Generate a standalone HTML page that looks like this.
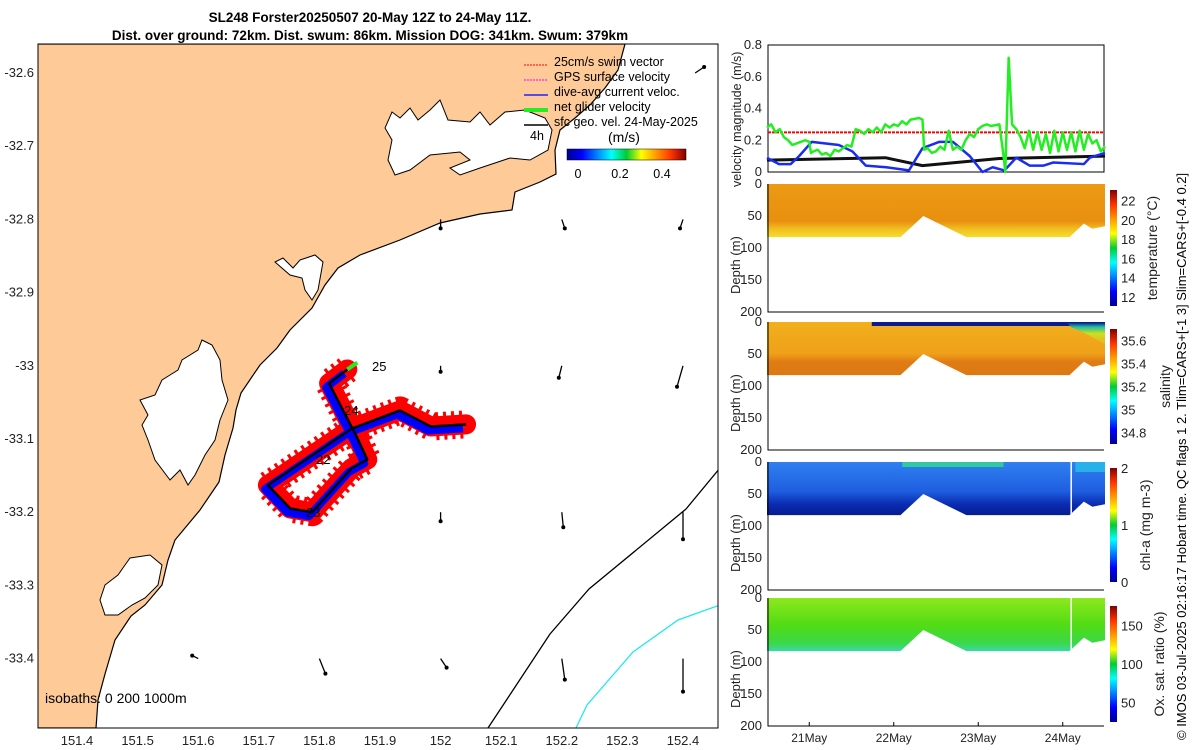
<!DOCTYPE html>
<html><head><meta charset="utf-8">
<style>
html,body{margin:0;padding:0;background:#fff;}
svg{display:block;font-family:"Liberation Sans","DejaVu Sans",sans-serif;}
.t{font-size:13px;fill:#222;}
</style></head>
<body>
<svg id="fig" width="1200" height="750" viewBox="0 0 1200 750" xmlns="http://www.w3.org/2000/svg">
<defs>
<linearGradient id="jetV" x1="0" y1="1" x2="0" y2="0">
<stop offset="0" stop-color="#00008f"/><stop offset="0.125" stop-color="#0000ff"/><stop offset="0.375" stop-color="#00ffff"/><stop offset="0.5" stop-color="#00cc33"/><stop offset="0.625" stop-color="#ffff00"/><stop offset="0.875" stop-color="#ff3300"/><stop offset="1" stop-color="#800000"/>
</linearGradient>
<linearGradient id="jetH" x1="0" y1="0" x2="1" y2="0">
<stop offset="0" stop-color="#00008f"/><stop offset="0.125" stop-color="#0000ff"/><stop offset="0.375" stop-color="#00ffff"/><stop offset="0.5" stop-color="#00cc33"/><stop offset="0.625" stop-color="#ffff00"/><stop offset="0.875" stop-color="#ff3300"/><stop offset="1" stop-color="#800000"/>
</linearGradient>
<linearGradient id="gT" x1="0" y1="0" x2="0" y2="1"><stop offset="0" stop-color="#ec9a14"/><stop offset="0.7" stop-color="#e8900f"/><stop offset="0.85" stop-color="#f2c021"/><stop offset="1" stop-color="#f4dd2a"/></linearGradient>
<linearGradient id="gS" x1="0" y1="0" x2="0" y2="1"><stop offset="0" stop-color="#f2b01c"/><stop offset="0.6" stop-color="#eea019"/><stop offset="0.75" stop-color="#e07b15"/><stop offset="1" stop-color="#dc7a12"/></linearGradient>
<linearGradient id="gC" x1="0" y1="0" x2="0" y2="1"><stop offset="0" stop-color="#2f80f0"/><stop offset="0.55" stop-color="#1f5ee0"/><stop offset="0.8" stop-color="#0a2bb0"/><stop offset="1" stop-color="#061c90"/></linearGradient>
<linearGradient id="gO" x1="0" y1="0" x2="0" y2="1"><stop offset="0" stop-color="#8ee81e"/><stop offset="0.5" stop-color="#52dc14"/><stop offset="0.85" stop-color="#3ad84a"/><stop offset="1" stop-color="#3ed8a8"/></linearGradient>
<linearGradient id="gSR" x1="0" y1="0" x2="0" y2="1"><stop offset="0" stop-color="#0a1a90"/><stop offset="0.2" stop-color="#20c0a0"/><stop offset="0.5" stop-color="#c8e020"/><stop offset="1" stop-color="#f0b020"/></linearGradient>
</defs>

<text x="370" y="22" text-anchor="middle" font-weight="bold" font-size="13.5" fill="#000">SL248 Forster20250507 20-May 12Z to 24-May 11Z.</text>
<text x="370" y="40" text-anchor="middle" font-weight="bold" font-size="13.5" fill="#000">Dist. over ground: 72km. Dist. swum: 86km. Mission DOG: 341km. Swum: 379km</text>

<g id="map">
<clipPath id="mapclip"><rect x="38" y="44" width="680" height="684"/></clipPath>
<g clip-path="url(#mapclip)">
<polygon fill="#fdca98" stroke="#000" stroke-width="1.2" points="30,44 625,44 618,70 605,88 590,105 575,118 560,130 555,150 556,174 540,182 515,192 512,210 480,214 440,223 400,240 360,255 338,268 325,285 312,308 290,330 277,348 260,365 241,393 236,410 233,428 225,455 219,482 200,510 175,540 168,560 162,585 145,605 131,616 115,640 105,674 98,700 96,728 30,728"/>
<polygon fill="#fff" stroke="#000" stroke-width="1" points="392,112 400,118 410,108 418,120 430,110 440,100 448,120 470,122 480,112 490,125 505,112 525,110 545,118 552,130 548,150 530,160 510,158 480,168 460,175 450,168 470,160 460,152 430,155 410,170 395,175 388,160 392,140 385,128"/>
<polygon fill="#fff" stroke="#000" stroke-width="1" points="300,260 315,255 323,262 318,290 312,300 305,290 302,278 290,275 275,262 283,258 293,268"/>
<polygon fill="#fff" stroke="#000" stroke-width="1" points="202,340 212,345 220,360 222,380 228,400 220,420 215,440 205,455 195,475 188,485 180,470 170,480 155,460 148,440 142,425 148,415 140,400 155,395 162,380 170,375 178,370 182,360 190,355 198,350"/>
<polygon fill="#fff" stroke="#000" stroke-width="1" points="130,558 150,555 162,565 158,585 145,598 132,605 118,615 105,615 100,600 105,585 118,575 125,565"/>
<polyline fill="none" stroke="#000" stroke-width="1.3" points="488,728 550,634 589,589 686,509 720,468"/>
<polyline fill="none" stroke="#22e8f0" stroke-width="1.3" points="576,728 587,705 633,652 678,620 720,605"/>
<g id="vecs"></g>
<g id="track"></g>
</g>
<rect x="38" y="44" width="680" height="684" fill="none" stroke="#000" stroke-width="1"/>
<g id="mapticks" class="t"></g>
<text x="372" y="371" font-size="13">25</text>
<text x="344" y="415" font-size="13">24</text>
<text x="316" y="464" font-size="13">22</text>
<text x="306" y="517" font-size="13">23</text>
<text x="45" y="703" font-size="14">isobaths: 0   200  1000m</text>
<g font-size="12.5" fill="#000">
<line x1="524" y1="65" x2="548" y2="65" stroke="#f00" stroke-dasharray="2,1"/><text x="554" y="66">25cm/s swim vector</text>
<line x1="524" y1="80" x2="548" y2="80" stroke="#f0f" stroke-dasharray="2,1"/><text x="554" y="81">GPS surface velocity</text>
<line x1="524" y1="95" x2="548" y2="95" stroke="#22f" stroke-width="1.5"/><text x="554" y="96">dive-avg current veloc.</text>
<line x1="524" y1="110" x2="548" y2="110" stroke="#2e2" stroke-width="4"/><text x="554" y="111">net glider velocity</text>
<line x1="524" y1="125" x2="548" y2="125" stroke="#000" stroke-width="1.5"/><text x="554" y="126">sfc geo. vel. 24-May-2025</text>
<text x="530" y="140">4h</text>
<text x="608" y="142" font-size="14">(m/s)</text>
<rect x="567" y="149" width="119" height="11" fill="url(#jetH)" stroke="#000" stroke-width="0.5"/>
<text x="578" y="178" text-anchor="middle">0</text><text x="620" y="178" text-anchor="middle">0.2</text><text x="662" y="178" text-anchor="middle">0.4</text>
</g>
</g>

<g id="vel"></g>
<g id="sections"></g>

<text transform="translate(1186,740) rotate(-90)" font-size="13" fill="#000">© IMOS 03-Jul-2025 02:16:17 Hobart time. QC flags 1  2. Tlim=CARS+[-1 3] Slim=CARS+[-0.4 0.2]</text>
</svg>
<script>
const NS="http://www.w3.org/2000/svg";
// ---- data ----
const lonTicks=[151.4,151.5,151.6,151.7,151.8,151.9,152,152.1,152.2,152.3,152.4];
const latTicks=[-32.6,-32.7,-32.8,-32.9,-33,-33.1,-33.2,-33.3,-33.4];
const trackLon=[151.846,151.816,151.861,151.879,151.853,151.788,151.752,151.715,151.853,151.933,151.984,152.042];
const trackLat=[-33.005,-33.024,-33.096,-33.128,-33.140,-33.200,-33.195,-33.163,-33.086,-33.061,-33.083,-33.080];
const vecLon=[152.0,152.2,152.4,152.0,152.2,152.4,152.0,152.2,152.4,151.6,151.8,152.0,152.2,152.4,152.42];
const vecLat=[-32.8,-32.8,-32.8,-33.0,-33.0,-33.0,-33.2,-33.2,-33.2,-33.4,-33.4,-33.4,-33.4,-33.4,-32.6];
const vecU=[0,0.01,-0.01,0,-0.01,-0.02,0,0.005,0,-0.02,0.02,0.02,0.01,0,0.03];
const vecV=[-0.03,-0.03,-0.03,-0.02,-0.04,-0.07,-0.03,-0.05,-0.09,0.01,-0.05,-0.03,-0.07,-0.11,0.02];
const velTicks=[0,0.2,0.4,0.6,0.8];
const greenT=[0,0.05,0.1,0.15,0.2,0.25,0.3,0.35,0.4,0.45,0.5,0.52,0.55,0.6,0.65,0.7,0.75,0.8,0.85,0.9,0.95,1.0,1.05,1.1,1.15,1.2,1.25,1.3,1.35,1.4,1.45,1.5,1.55,1.6,1.65,1.7,1.8,1.84,1.86,1.9,1.95,2.0,2.05,2.1,2.15,2.2,2.25,2.3,2.35,2.4,2.45,2.5,2.55,2.6,2.65,2.75,2.8,2.82,2.86,2.9,2.95,3.0,3.05,3.1,3.15,3.2,3.25,3.3,3.35,3.4,3.45,3.5,3.55,3.6,3.65,3.7,3.75,3.8,3.85,3.9,3.95,4.0];
const greenV=[0.28,0.3,0.25,0.27,0.22,0.2,0.17,0.18,0.19,0.2,0.19,0.12,0.13,0.14,0.11,0.12,0.1,0.14,0.13,0.15,0.17,0.16,0.27,0.26,0.24,0.27,0.25,0.28,0.25,0.3,0.28,0.3,0.29,0.32,0.3,0.33,0.34,0.33,0.14,0.15,0.12,0.13,0.16,0.14,0.26,0.14,0.16,0.14,0.2,0.24,0.22,0.27,0.29,0.3,0.29,0.3,0.1,0.0,0.72,0.3,0.27,0.22,0.15,0.26,0.14,0.25,0.14,0.24,0.12,0.26,0.13,0.25,0.14,0.25,0.13,0.26,0.14,0.24,0.18,0.2,0.13,0.16];
const blueT=[0,0.14,0.28,0.38,0.53,0.85,1.01,1.17,1.41,1.68,1.84,2.04,2.2,2.4,2.55,2.67,2.81,2.95,3.11,3.27,3.39,3.75,3.82,4.0];
const blueV=[0.09,0.05,0.05,0.1,0.19,0.17,0.13,0.04,0.03,0.01,0.15,0.19,0.19,0.1,0.0,0.03,0.01,0.09,0.04,0.04,0.06,0.05,0.09,0.12];
const blackT=[0,1.4,1.84,2.75,4.0];
const blackV=[0.075,0.09,0.04,0.085,0.1];
const swimRef=0.25;
const bottomT=[0,1.58,1.85,2.36,3.58,3.75,3.85,4.0];
const bottomD=[83,83,50,83,83,62,70,66];
const depthTicks=[0,50,100,150,200];
const dayTicks=[0.5,1.5,2.5,3.5];
const dayLabels=["21May","22May","23May","24May"];
const tempTicks=[12,14,16,18,20,22];
const salTicks=[34.8,35,35.2,35.4,35.6];
const chlTicks=[0,1,2];
const oxTicks=[50,100,150];

// ---- scales ----
const lx=v=>77+(v-151.4)*606;
const ly=v=>73+(-32.6-v)*732;
const tx=t=>767+t*84.5;
function mk(tag,attrs,parent){const e=document.createElementNS(NS,tag);for(const k in attrs)e.setAttribute(k,attrs[k]);parent.appendChild(e);return e;}

// map ticks
const mt=document.getElementById('mapticks');
lonTicks.forEach(v=>{const x=lx(v);
 const t=mk('text',{x:x,y:745,'text-anchor':'middle'},mt);t.textContent=String(v);
 });
latTicks.forEach(v=>{const y=ly(v);
 const t=mk('text',{x:34,y:y+4,'text-anchor':'end'},mt);t.textContent=String(v);
 });

// vectors
const vg=document.getElementById('vecs');
vecLon.forEach((lo,i)=>{const x=lx(lo),y=ly(vecLat[i]);const x2=x+vecU[i]*300,y2=y-vecV[i]*300;
 const l=mk('line',{x1:x,y1:y,x2:x2,y2:y2,stroke:'#000','stroke-width':1.3},vg);
 
 const c=mk('circle',{cx:x2,cy:y2,r:2,fill:'#000'},vg);
 });

// track
const tg=document.getElementById('track');
const pts=trackLon.map((lo,i)=>lx(lo)+','+ly(trackLat[i])).join(' ');
const red=mk('polyline',{points:pts,fill:'none',stroke:'#f00','stroke-width':20,'stroke-linejoin':'round','stroke-linecap':'round'},tg);

const red2=mk('polyline',{points:pts,fill:'none',stroke:'#f00','stroke-width':28,'stroke-dasharray':'3,5','stroke-linejoin':'round'},tg);

const blu=mk('polyline',{points:pts,fill:'none',stroke:'#0000ff','stroke-width':8,'stroke-linejoin':'round',transform:'translate(-3,4)'},tg);

const blk=mk('polyline',{points:pts,fill:'none',stroke:'#000','stroke-width':2.5,'stroke-linejoin':'round'},tg);

const gr=mk('line',{x1:lx(trackLon[0]),y1:ly(trackLat[0]),x2:lx(trackLon[0])+10,y2:ly(trackLat[0])-7,stroke:'#2e2','stroke-width':4},tg);


// velocity panel
const vp=document.getElementById('vel');
const vy=v=>172-v*158.75;
const box=mk('rect',{x:768,y:45,width:336,height:127,fill:'none',stroke:'#000'},vp);

velTicks.forEach(v=>{const t=mk('text',{x:762,y:vy(v)+4,'text-anchor':'end','font-size':13,fill:'#222'},vp);t.textContent=String(v);
 });
const vl=mk('text',{transform:'translate(741,187) rotate(-90)','font-size':12.5,fill:'#222'},vp);vl.textContent='velocity magnitude (m/s)';

const rl=mk('line',{x1:768,y1:vy(swimRef),x2:1104,y2:vy(swimRef),stroke:'#f00','stroke-width':2,'stroke-dasharray':'3,1'},vp);

function series(T,V,col,w,name){const p=mk('polyline',{points:T.map((t,i)=>tx(t)+','+vy(V[i])).join(' '),fill:'none',stroke:col,'stroke-width':w,'stroke-linejoin':'round'},vp);
 }
series(blackT,blackV,'#111',3,'glider-speed-line');
series(blueT,blueV,'#1a2cf0',2.5,'current-speed-line');
series(greenT,greenV,'#22ee22',2.5,'net-velocity-line');

// sections
const sg=document.getElementById('sections');
const panels=[
 {top:184,fill:'url(#gT)',name:'temperature',label:'temperature (°C)',ticks:tempTicks,lo:11.07,hi:23.1,cb:[190,306],lx:1157},
 {top:322,fill:'url(#gS)',name:'salinity',label:'salinity',ticks:salTicks,lo:34.7,hi:35.7,cb:[329,444],lx:1170},
 {top:462,fill:'url(#gC)',name:'chl-a',label:'chl-a (mg m-3)',ticks:chlTicks,lo:0,hi:2,cb:[468,582],lx:1150},
 {top:598,fill:'url(#gO)',name:'oxygen',label:'Ox. sat. ratio (%)',ticks:oxTicks,lo:25,hi:175,cb:[606,722],lx:1164}];
panels.forEach((P,pi)=>{
 const dy=d=>P.top+d*0.64;
 const poly=[tx(0)+','+dy(0),tx(4)+','+dy(0)].concat(bottomT.slice().reverse().map((t,i)=>{const j=bottomT.length-1-i;return tx(t)+','+dy(bottomD[j]);})).join(' ');
 const f=mk('polygon',{points:poly,fill:P.fill},sg);
 
 if(pi===1){const s=mk('rect',{x:tx(1.24),y:dy(0),width:tx(4)-tx(1.24),height:4,fill:'#0a1a90'},sg);
  
  const r=mk('polygon',{points:`${tx(3.55)},${dy(1)} ${tx(4)},${dy(1)} ${tx(4)},${dy(35)} ${tx(3.8)},${dy(20)} ${tx(3.6)},${dy(8)}`,fill:'url(#gSR)'},sg);
  }
 if(pi===2){const s=mk('rect',{x:tx(1.6),y:dy(0),width:tx(2.8)-tx(1.6),height:5,fill:'#30c8a0'},sg);
  
  const r=mk('rect',{x:tx(3.65),y:dy(0),width:tx(4)-tx(3.65),height:10,fill:'#28b0e8'},sg);
  }
 if(pi>=2){const g=mk('line',{x1:tx(3.6),y1:dy(0),x2:tx(3.6),y2:dy(84),stroke:'#fff','stroke-width':1.5},sg);
  }
 const ax=mk('polyline',{points:`768,${P.top} 768,${P.top+128} 1104,${P.top+128}`,fill:'none',stroke:'#000'},sg);
 
 depthTicks.forEach(d=>{const t=mk('text',{x:762,y:dy(d)+4,'text-anchor':'end','font-size':13,fill:'#222'},sg);t.textContent=String(d);
  });
 const yl=mk('text',{transform:`translate(740,${P.top+110}) rotate(-90)`,'font-size':13,fill:'#222'},sg);yl.textContent='Depth (m)';
 
 const cb=mk('rect',{x:1110,y:P.cb[0],width:7,height:P.cb[1]-P.cb[0],fill:'url(#jetV)'},sg);
 
 const cy=v=>P.cb[1]-(v-P.lo)/(P.hi-P.lo)*(P.cb[1]-P.cb[0]);
 P.ticks.forEach(v=>{const t=mk('text',{x:1121,y:cy(v)+5,'font-size':13,fill:'#222'},sg);t.textContent=String(v);
  });
 const cl=mk('text',{transform:`translate(${P.lx},${(P.cb[0]+P.cb[1])/2}) rotate(-90)`,'text-anchor':'middle','font-size':14,fill:'#222'},sg);cl.textContent=P.label;
 
});
dayTicks.forEach((t,i)=>{const x=tx(t);
 const l=mk('line',{x1:x,y1:726,x2:x,y2:722,stroke:'#000'},sg);
 
 const tt=mk('text',{x:x,y:742,'text-anchor':'middle','font-size':12,fill:'#222'},sg);tt.textContent=dayLabels[i];
 });
</script>
</body></html>
